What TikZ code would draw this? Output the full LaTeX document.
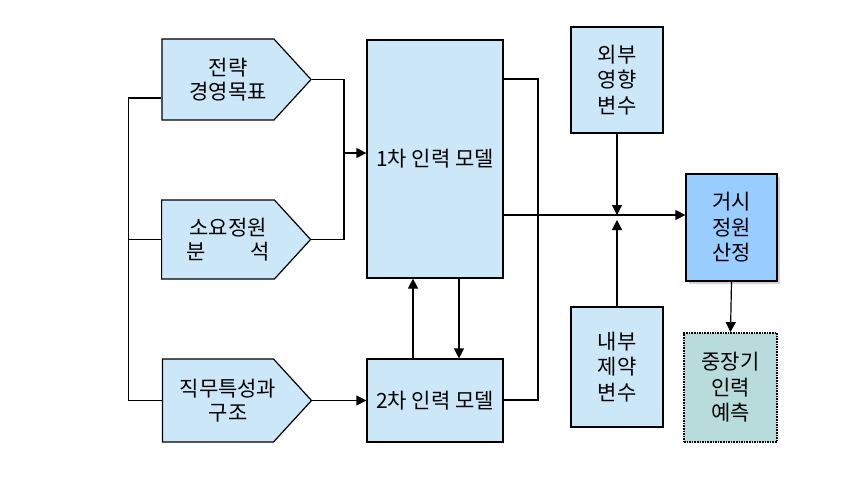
\documentclass[tikz,border=0pt]{standalone}
\usepackage{fontspec}
\setmainfont{Noto Sans CJK KR}
\usetikzlibrary{shapes.symbols,arrows.meta,shadows}
\definecolor{boxblue}{HTML}{CCE8F8}
\definecolor{macblue}{HTML}{99CCFF}
\definecolor{futteal}{HTML}{B8DCDC}
\begin{document}
\begin{tikzpicture}[x=1pt,y=-1pt,
    box/.style={draw,line width=1.2pt,fill=boxblue,align=center,inner sep=0pt,
      font=\fontsize{21}{25.5}\selectfont},
    goal/.style={box,shape=signal,signal to=east,signal pointer angle=95},
    goaltext/.style={align=center,xshift=10pt,font=\fontsize{21}{23.5}\selectfont},
    >={Triangle[length=10pt,width=10pt]}]
  \useasboundingbox (0,0) rectangle (857,500);
  \draw
    (218,79.5) node[goal,minimum width=149,minimum height=81,
      label={[goaltext]center:{전략\\경영목표}}] (p1){}
    (218,239.5) node[goal,minimum width=149,minimum height=79,
      label={[goaltext]center:{소요정원\\\makebox[4em][s]{분\hfill{}석}}}] (p2){}
    (218,400.5) node[goal,minimum width=149,minimum height=83,
      label={[goaltext]center:{직무특성과\\구조}}] (p3){}
    (435,159) node[box,minimum width=136,minimum height=238] (m1){1차 인력 모델}
    (435,400.5) node[box,minimum width=136,minimum height=83] (m2){2차 인력 모델}
    (617,80) node[box,minimum width=92,minimum height=106] (ext){외부\\영향\\변수}
    (617,367) node[box,minimum width=92,minimum height=120] (int){내부\\제약\\변수}
    (731.5,227.5) node[box,fill=macblue,minimum width=91,minimum height=107,
      drop shadow={shadow xshift=3pt,shadow yshift=-3pt,fill=gray!70}] (mac){거시\\정원\\산정}
    (730.5,387.5) node[box,fill=futteal,line width=1.8pt,dash pattern=on 1.6pt off 1pt,
      minimum width=93,minimum height=109] (fut){중장기\\인력\\예측};
  \coordinate (j1) at (344,153);
  \coordinate (r1) at (538,79);
  \coordinate (r2) at (538,400);
  \coordinate (h) at (617,215);
  \begin{scope}[line width=1.2pt]
    \draw ([yshift=-18.5pt]p1.west) -- ++(-33,0) |- (p3.west);
    \draw (p2.west) -- ++(-33,0);
    \draw (p1.east) -| (j1);
    \draw (p2.east) -| (j1);
    \draw[->] (j1) -- (j1 -| m1.west);
    \draw[->] (p3.east) -- (m2.west);
    \draw[->] ([xshift=-22pt]m2.north) -- ([xshift=-22pt]m1.south);
    \draw[->] ([xshift=24pt]m1.south) -- ([xshift=24pt]m2.north);
    \draw (r1 -| m1.east) -- (r1) -- (r2) -- (r2 -| m2.east);
    \draw[->] (h -| m1.east) -- (h -| mac.west);
    \draw[->] (ext.south) -- (h);
    \draw[->] (int.north) -- ([yshift=-5pt]h);
    \draw[->] (mac.south) -- (fut.north);
  \end{scope}
\end{tikzpicture}
\end{document}
